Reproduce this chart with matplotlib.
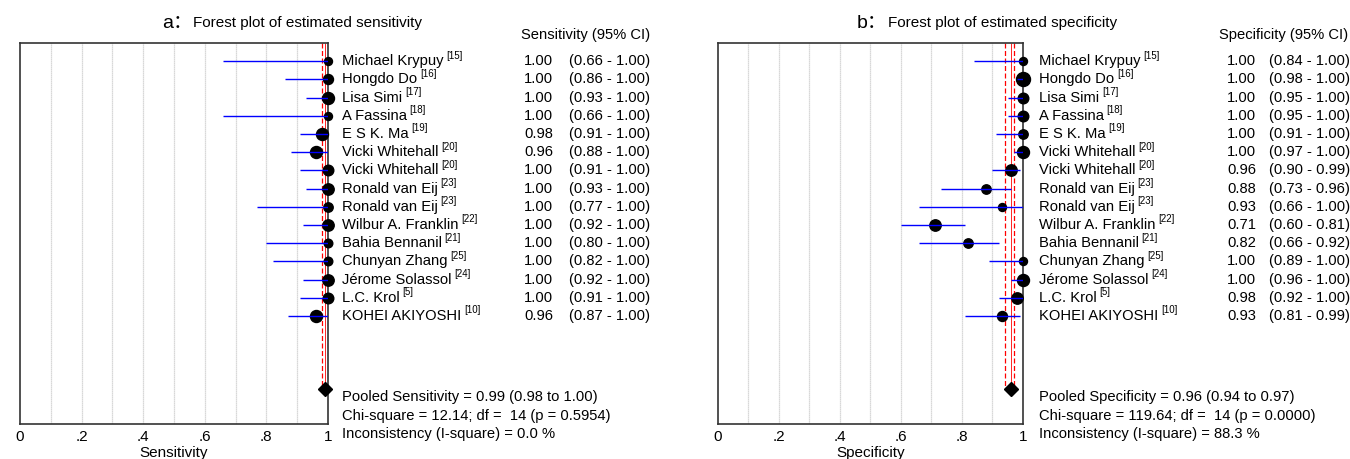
import matplotlib
matplotlib.use("Agg")
import matplotlib.pyplot as plt
from matplotlib.transforms import blended_transform_factory
import numpy as np

plt.rcParams['font.family'] = ['Liberation Sans', 'Noto Sans CJK SC', 'DejaVu Sans']

studies = ["Michael Krypuy", "Hongdo Do", "Lisa Simi", "A Fassina", "E S K. Ma",
           "Vicki Whitehall", "Vicki Whitehall", "Ronald van Eij", "Ronald van Eij",
           "Wilbur A. Franklin", "Bahia Bennanil", "Chunyan Zhang", "Jérome Solassol",
           "L.C. Krol", "KOHEI AKIYOSHI"]
refs = ["15", "16", "17", "18", "19", "20", "20", "23", "23", "22", "21", "25", "24", "5", "10"]

sens = [1.00, 1.00, 1.00, 1.00, 0.98, 0.96, 1.00, 1.00, 1.00, 1.00, 1.00, 1.00, 1.00, 1.00, 0.96]
sens_lo = [0.66, 0.86, 0.93, 0.66, 0.91, 0.88, 0.91, 0.93, 0.77, 0.92, 0.80, 0.82, 0.92, 0.91, 0.87]
sens_hi = [1.00] * 15
sens_w = [4, 5, 6, 4, 6, 6, 5.3, 5.7, 4.7, 5.7, 4.3, 4.3, 5.7, 5.3, 6]

spec = [1.00, 1.00, 1.00, 1.00, 1.00, 1.00, 0.96, 0.88, 0.93, 0.71, 0.82, 1.00, 1.00, 0.98, 0.93]
spec_lo = [0.84, 0.98, 0.95, 0.95, 0.91, 0.97, 0.90, 0.73, 0.66, 0.60, 0.66, 0.89, 0.96, 0.92, 0.81]
spec_hi = [1.00, 1.00, 1.00, 1.00, 1.00, 1.00, 0.99, 0.96, 1.00, 0.81, 0.92, 1.00, 1.00, 1.00, 0.99]
spec_w = [4, 7, 5.3, 5.3, 4.7, 6, 5.7, 4.7, 4, 5.7, 4.7, 4, 6, 5.7, 5]

sens_pool = (0.99, 0.98, 1.00)
spec_pool = (0.96, 0.94, 0.97)
sens_stats = ["Pooled Sensitivity = 0.99 (0.98 to 1.00)",
              "Chi-square = 12.14; df =  14 (p = 0.5954)",
              "Inconsistency (I-square) = 0.0 %"]
spec_stats = ["Pooled Specificity = 0.96 (0.94 to 0.97)",
              "Chi-square = 119.64; df =  14 (p = 0.0000)",
              "Inconsistency (I-square) = 88.3 %"]


def forest(fig, rect, est, lo, hi, w, pool, stats, label, xcols, letter, title, title_x):
    ax = fig.add_axes(rect)
    rows = np.arange(1, len(est) + 1)
    fs = 10.6
    for x in np.arange(0.1, 1.0, 0.1):
        ax.axvline(x, color='#cccccc', lw=0.9, ls=(0, (1, 0.6)), zorder=0)
    ms = np.array(w) * 2 / (100 / 72)
    for yi, e, m in zip(rows, est, ms):
        ax.plot(e, yi, 'o', color='black', ms=m, zorder=3, clip_on=False)
    ax.hlines(rows, lo, hi, color='#0000ff', lw=1, zorder=4)
    p, pl, ph = pool
    ax.vlines([pl, ph], 0, 19, color='red', lw=0.9, ls=(0, (4, 2)), zorder=2)
    ax.vlines(p, 0, 19, color='red', lw=0.6, zorder=2)
    ax.plot(p, 19, 'D', color='black', ms=7, zorder=5, clip_on=False)

    ax.set_xlim(0, 1)
    ax.set_ylim(20.93, 0)
    ax.set_yticks([])
    ax.set_xticks([0, 0.2, 0.4, 0.6, 0.8, 1.0])
    ax.set_xticklabels(["0", ".2", ".4", ".6", ".8", "1"], fontsize=11)
    ax.tick_params(axis='x', length=0, pad=4)
    ax.set_xlabel(label, fontsize=11, labelpad=2)
    for s in ax.spines.values():
        s.set_color('#333333')
        s.set_linewidth(1.2)

    tr = blended_transform_factory(ax.transAxes, ax.transData)
    xn, xe, xc, xh = xcols
    ax.text(xh, -0.45, label + " (95% CI)", transform=tr, fontsize=fs, va='center')
    for yi, name, r, e, l, h in zip(rows, studies, refs, est, lo, hi):
        t = ax.text(xn, yi, name, transform=tr, fontsize=fs, va='center')
        ax.annotate("[" + r + "]", xy=(1, 0.55), xycoords=t, xytext=(2, 0),
                    textcoords='offset points', fontsize=7, va='bottom')
        ax.text(xe, yi, "%.2f" % e, transform=tr, fontsize=fs, va='center')
        ax.text(xc, yi, "(%.2f - %.2f)" % (l, h), transform=tr, fontsize=fs, va='center')
    for k, s in enumerate(stats):
        ax.text(xn, 19.45 + k * 1.02, s, transform=tr, fontsize=fs, va='center', clip_on=False)

    fig.text(title_x, 1 - 23 / 459, letter + "：", fontsize=14, va='center')
    fig.text(title_x + 31 / 1350, 1 - 23 / 459, title, fontsize=11, va='center')
    return ax


fig = plt.figure(figsize=(13.5, 4.59), dpi=100)
forest(fig, [20 / 1350, 1 - 424 / 459, 308 / 1350, 381 / 459],
       sens, sens_lo, sens_hi, sens_w, sens_pool, sens_stats, "Sensitivity",
       (1.045, 1.636, 1.782, 1.627), "a", "Forest plot of estimated sensitivity", 162 / 1350)
forest(fig, [718 / 1350, 1 - 424 / 459, 305 / 1350, 381 / 459],
       spec, spec_lo, spec_hi, spec_w, spec_pool, spec_stats, "Specificity",
       (1.052, 1.669, 1.807, 1.643), "b", "Forest plot of estimated specificity", 857 / 1350)
fig.savefig("out.png", dpi=100)
